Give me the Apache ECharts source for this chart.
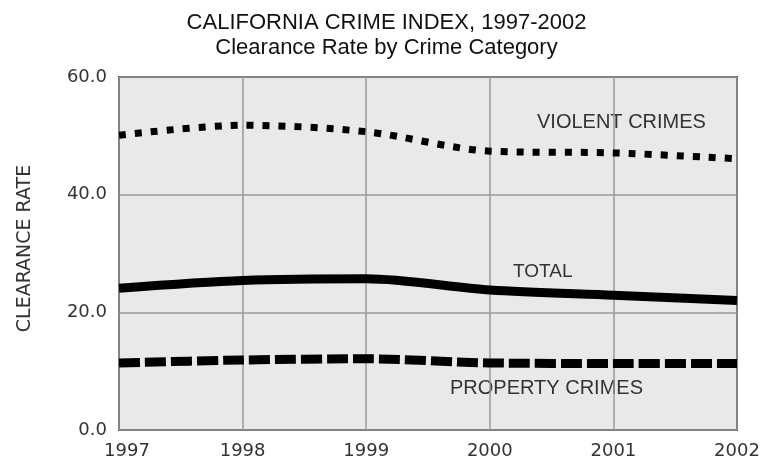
<!DOCTYPE html>
<html><head><meta charset="utf-8">
<script src="https://cdn.jsdelivr.net/npm/echarts@6/dist/echarts.min.js"></script>
<style>html,body{margin:0;padding:0;background:#fff}#c{width:773px;height:458px}</style>
</head><body><div id="c"></div>
<script>
var years = ['1997','1998','1999','2000','2001','2002'];
var violent = [50.1, 51.8, 50.7, 47.4, 47.1, 46.1];
var total = [24.1, 25.4, 25.7, 23.8, 22.9, 22.0];
var property = [11.4, 11.9, 12.1, 11.4, 11.3, 11.3];
var yTicks = [0, 20, 40, 60];

var chart = echarts.init(document.getElementById('c'));
var tfont = 'Liberation Sans, Arial, sans-serif';
var font = 'DejaVu Sans, sans-serif';
chart.setOption({
  animation: false,
  title: [
    {text: 'CALIFORNIA CRIME INDEX, 1997-2002', left: 'center', top: 7,
     textStyle: {fontFamily: tfont, fontSize: 22, fontWeight: 'normal', color: '#111'}},
    {text: 'Clearance Rate by Crime Category', left: 'center', top: 32,
     textStyle: {fontFamily: tfont, fontSize: 22, fontWeight: 'normal', color: '#111'}}
  ],
  grid: {left: 119, right: 36, top: 77, bottom: 28, show: true, outerBoundsMode: 'none',
         containLabel: false,
         backgroundColor: '#e9e9e9', borderColor: '#444', borderWidth: 2},
  xAxis: {type: 'category', data: years, boundaryGap: false,
    axisLine: {show: false}, axisTick: {show: false},
    axisLabel: {fontFamily: font, fontSize: 18, color: '#333', margin: 12,
      formatter: function (v, i) { return i === 0 ? '{f|' + v + '}' : v; },
      rich: {f: {fontFamily: font, fontSize: 18, color: '#333', padding: [0, 0, 0, 16]}}},
    splitLine: {show: true, lineStyle: {color: '#999', width: 1.5}}},
  yAxis: {type: 'value', min: 0, max: 60, interval: 20,
    name: 'CLEARANCE RATE', nameLocation: 'middle', nameGap: 84, nameRotate: 90,
    nameTextStyle: {fontFamily: font, fontSize: 19, color: '#333', padding: [0, 0, 0, 10]},
    axisLine: {show: false}, axisTick: {show: false},
    axisLabel: {fontFamily: font, fontSize: 18, color: '#333', margin: 12,
      formatter: function (v) { return yTicks.indexOf(v) >= 0 ? v.toFixed(1) : ''; }},
    splitLine: {show: true, lineStyle: {color: '#999', width: 1.5}}},
  series: [
    {name: 'VIOLENT CRIMES', type: 'line', data: violent, smooth: 0.3, symbol: 'none',
     lineStyle: {color: '#000', width: 7, type: [7, 9], cap: 'butt'}},
    {name: 'TOTAL', type: 'line', data: total, smooth: 0.3, symbol: 'none',
     lineStyle: {color: '#000', width: 9}},
    {name: 'PROPERTY CRIMES', type: 'line', data: property, smooth: 0.3, symbol: 'none',
     lineStyle: {color: '#000', width: 9, type: [21, 5], cap: 'butt'}}
  ],
  graphic: [
    {type: 'text', left: 537, top: 112, style: {text: 'VIOLENT CRIMES', font: '20px ' + tfont, fill: '#333'}},
    {type: 'text', left: 513, top: 262, style: {text: 'TOTAL', font: '19px ' + tfont, fill: '#333'}},
    {type: 'text', left: 450, top: 378, style: {text: 'PROPERTY CRIMES', font: '20px ' + tfont, fill: '#333'}}
  ]
});
</script></body></html>
